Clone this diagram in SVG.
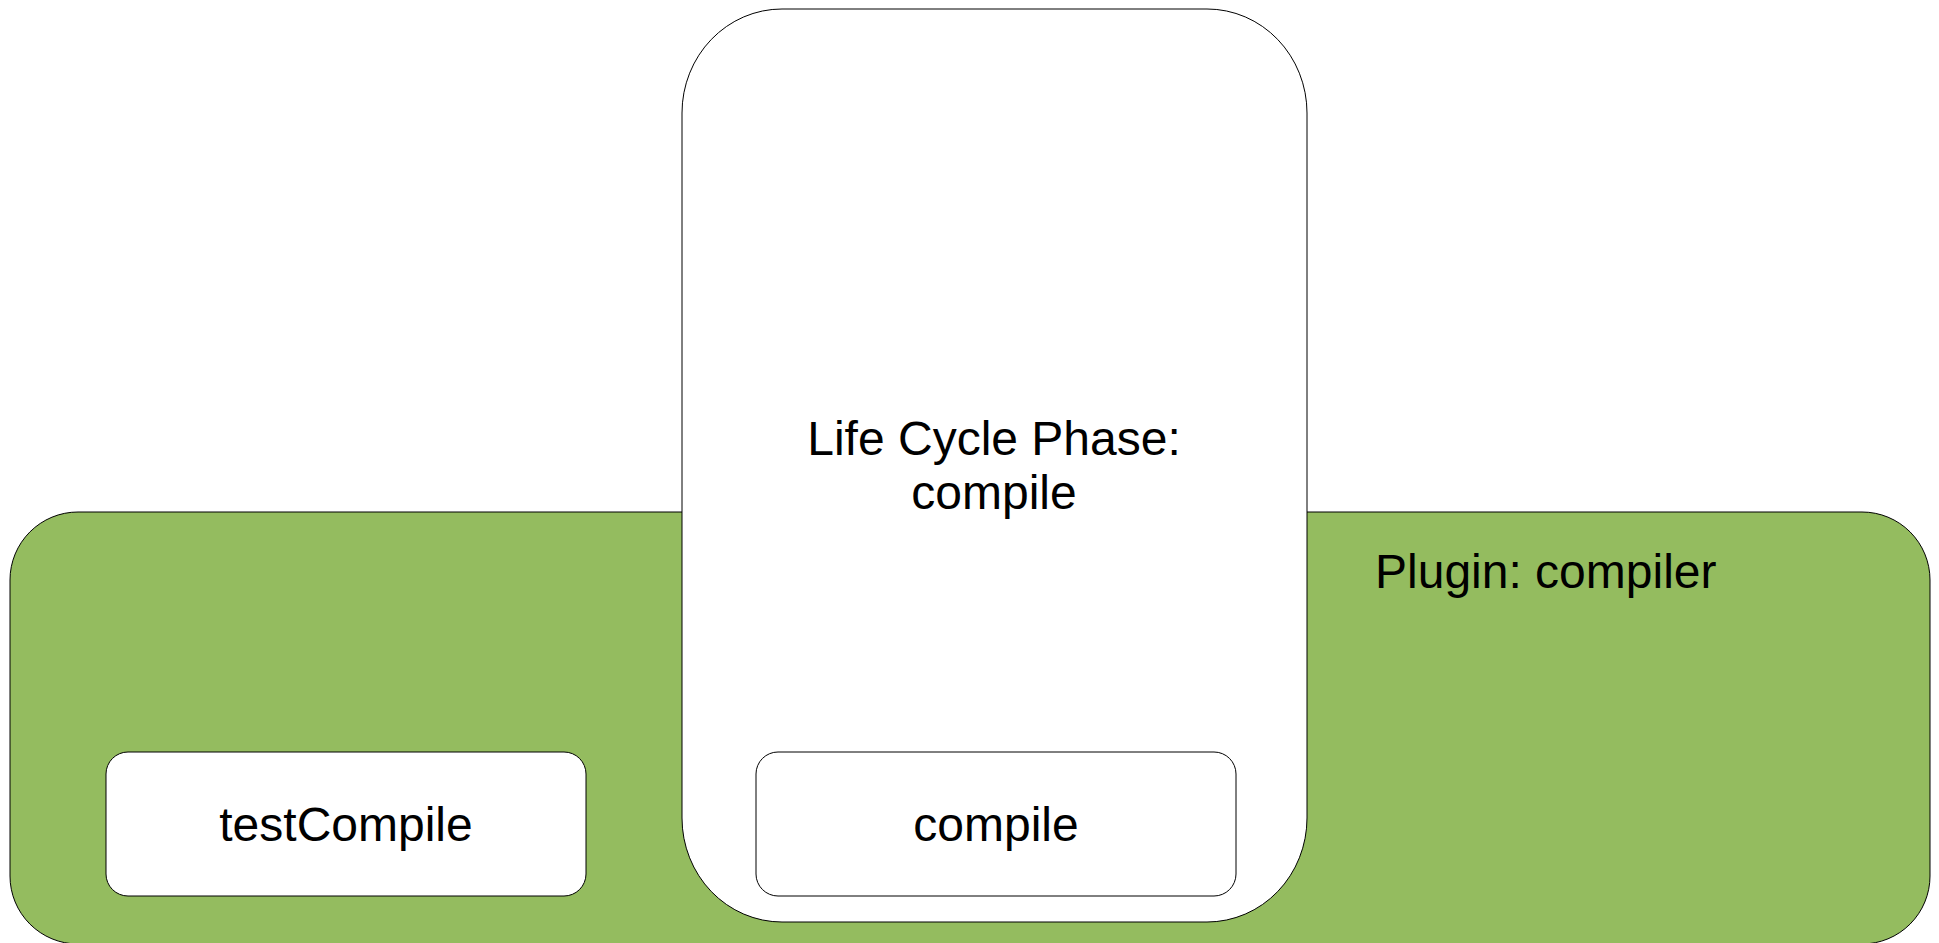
<svg xmlns="http://www.w3.org/2000/svg" width="1939" height="943" viewBox="0 0 1939 943">
<style>
.box{fill:#ffffff;stroke:#000000;stroke-width:1}
.lbl{font-family:"Liberation Sans",Arial,sans-serif;font-size:48px;fill:#000000}
</style>
<rect width="1939" height="943" fill="#ffffff"/>
<g id="plugin">
<rect x="10" y="512" width="1920" height="432" rx="68" ry="68" fill="#94bc5f" stroke="#000000" stroke-width="1"/>
<text class="lbl" x="1375" y="588">Plugin: compiler</text>
</g>
<g id="phase">
<rect class="box" x="682" y="9" width="625" height="913" rx="100" ry="104"/>
<text class="lbl" x="994" y="455" text-anchor="middle">Life Cycle Phase:</text>
<text class="lbl" x="994" y="509" text-anchor="middle">compile</text>
</g>
<g id="testCompile">
<rect class="box" x="106" y="752" width="480" height="144" rx="22" ry="22"/>
<text class="lbl" x="346" y="841" text-anchor="middle">testCompile</text>
</g>
<g id="compile">
<rect class="box" x="756" y="752" width="480" height="144" rx="22" ry="22"/>
<text class="lbl" x="996" y="841" text-anchor="middle">compile</text>
</g>
<g id="connectors"></g>
</svg>
